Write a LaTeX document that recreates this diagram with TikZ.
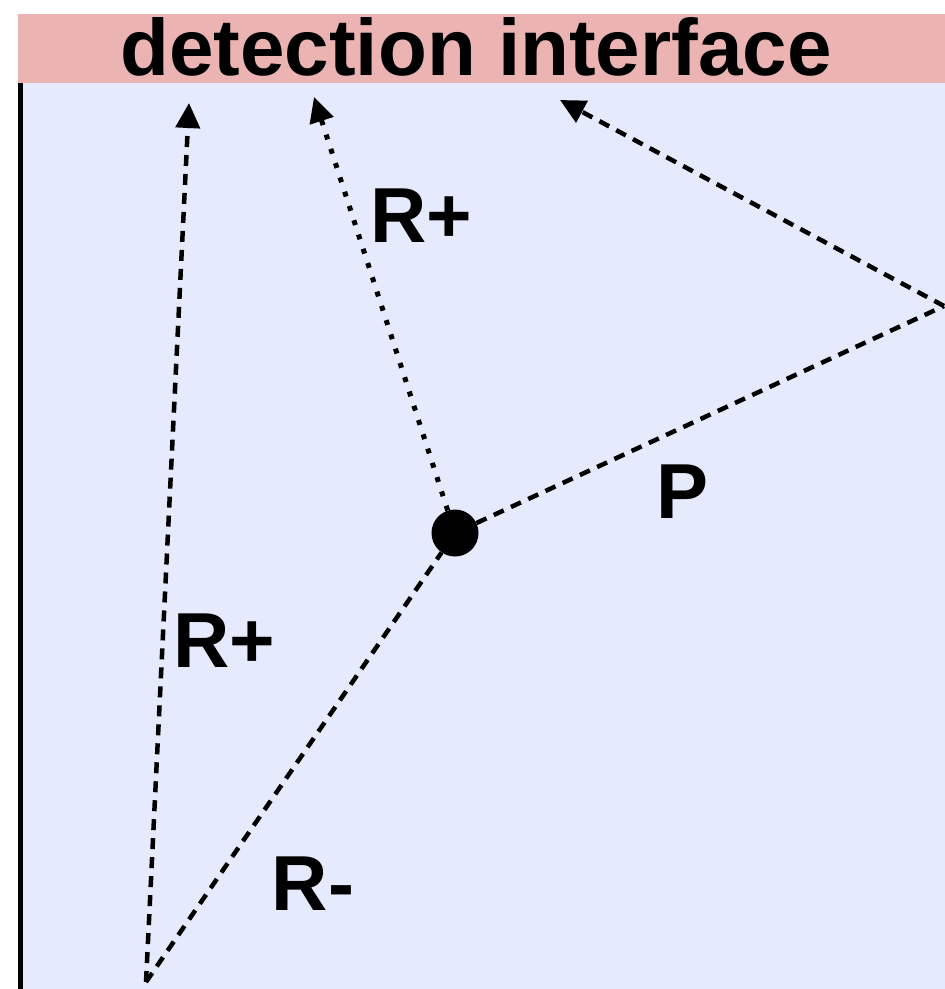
\documentclass[tikz,border=0pt]{standalone}
\usepackage{fontspec}
\setmainfont{Liberation Sans}
\usetikzlibrary{arrows.meta}
\definecolor{barpink}{RGB}{235,179,178}
\definecolor{bgblue}{RGB}{229,234,252}
\tikzset{
  dashline/.style={line width=4.5pt, dash pattern=on 11pt off 8pt},
  dotline/.style={line width=5pt, dash pattern=on 5pt off 10pt},
  tipend/.style={-{Triangle[length=25pt,width=24pt]}},
  lbl/.style={inner sep=0pt, anchor=base, font=\fontsize{78}{80}\selectfont\bfseries},
}
\begin{document}
\begin{tikzpicture}[x=1pt,y=-1pt]
\useasboundingbox (0,0) rectangle (945,989);
\fill[white] (0,0) rectangle (945,989);
\fill[bgblue] (18,83) rectangle (945,989);
\fill[barpink] (18,14) rectangle (945,83);
\fill[black] (18,83) rectangle (23,989);
\node[lbl, font=\fontsize{80}{82}\selectfont\bfseries] (title) at (476,75) {detection interface};

\node[circle, fill=black, minimum size=47pt, inner sep=0pt] (dot) at (455,533) {};
\coordinate (B) at (146,982);
\coordinate (C) at (944,306);
\coordinate (T1) at (189,103);
\coordinate (T2) at (314,97);
\coordinate (T3) at (560,100);

\draw[dashline] (B) -- (dot);
\draw[dashline] (dot) -- (C);
\draw[dashline, tipend] (B) -- (T1);
\draw[dashline, tipend] (C) -- (T3);
\draw[dotline, tipend] (dot) -- (T2);

\node[lbl] (rp1) at (421,242) {R+};
\node[lbl] (rp2) at (224,667) {R+};
\node[lbl] (p) at (683,518) {P};
\node[lbl] (rm) at (313,910) {R-};
\end{tikzpicture}
\end{document}
